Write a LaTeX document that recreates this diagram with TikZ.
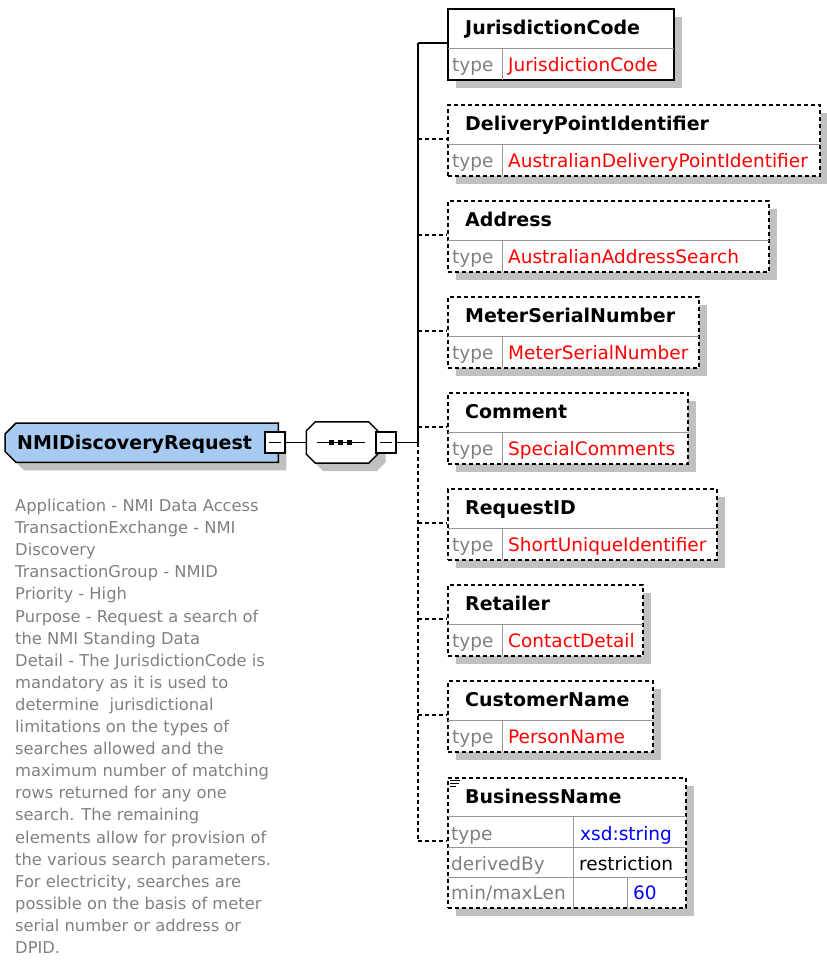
\documentclass[tikz,border=0pt]{standalone}
\usepackage{fontspec}
\setmainfont{DejaVu Sans}
\usetikzlibrary{shadows, backgrounds}
\definecolor{rootblue}{RGB}{166,202,240}
\definecolor{shadegray}{RGB}{192,192,192}
\definecolor{lblgray}{RGB}{128,128,128}
\definecolor{cellgray}{RGB}{150,150,150}
\newcommand{\elnamefont}{\fontsize{19}{22}\selectfont\bfseries}
\newcommand{\eltypefont}{\fontsize{18.5}{22}\selectfont}
\newcommand{\docfont}{\fontsize{16.3}{22.1}\selectfont}
\tikzset{>=latex,
  conn/.style={line width=1.5pt},
  optional/.style={dash pattern=on 4pt off 3pt},
  boxshadow/.style={drop shadow={shadow xshift=8pt, shadow yshift=-8pt, fill=shadegray, opacity=1}},
  elem/.style={draw, line width=1.6pt, fill=white, boxshadow, anchor=north west, inner sep=0pt, minimum height=71pt},
  celline/.style={draw=cellgray, line width=1pt, shorten <=0.8pt, shorten >=0.8pt},
  elname/.style={anchor=base west, inner sep=0pt, font=\elnamefont},
  eltype/.style={anchor=base west, inner sep=0pt, font=\eltypefont, text=lblgray},
  elval/.style={anchor=base west, inner sep=0pt, font=\eltypefont, text=red},
  minusbox/.style={draw, fill=white, line width=1.2pt, minimum width=20pt, minimum height=21pt, inner sep=0pt,
    path picture={\draw[line width=1.2pt] ([xshift=4pt]path picture bounding box.west) -- ([xshift=-4pt]path picture bounding box.east);}},
  rootbox/.style={anchor=north west, minimum width=273pt, minimum height=39pt, text width=249pt, inner xsep=12pt,
    inner ysep=0pt, text depth=0pt, align=left, font=\elnamefont},
  rootline/.style={draw, line width=1.5pt, fill=rootblue, boxshadow},
  seqbox/.style={minimum width=71pt, minimum height=41pt, inner sep=0pt},
  seqline/.style={draw, line width=1.5pt, fill=white, boxshadow},
  seqdot/.style={fill, minimum size=5pt, inner sep=0pt}
}
\begin{document}
\begin{tikzpicture}[x=1pt, y=-1pt]
\useasboundingbox (0,0) rectangle (827,961);
% root element and sequence
\node[rootbox] (root) at (5,423) {NMIDiscoveryRequest};
\node[seqbox] (seq) at (342,442.5) {};
\begin{scope}[on background layer]
\draw[rootline] ([xshift=11pt]root.north west) -- (root.north east) -- (root.south east)
  -- ([xshift=11pt]root.south west) -- ([yshift=11pt]root.south west) -- ([yshift=-11pt]root.north west) -- cycle;
\draw[seqline] ([xshift=9pt]seq.north west) -- ([xshift=-9pt]seq.north east) -- ([yshift=-9pt]seq.north east)
  -- ([yshift=9pt]seq.south east) -- ([xshift=-9pt]seq.south east) -- ([xshift=9pt]seq.south west)
  -- ([yshift=9pt]seq.south west) -- ([yshift=-9pt]seq.north west) -- cycle;
\end{scope}
\draw[line width=1.5pt] ([xshift=-25pt]seq.center) -- ([xshift=23pt]seq.center);
\node[seqdot] (dota) at ([xshift=-11pt]seq.center) {};
\node[seqdot] (dotb) at ([xshift=-2pt]seq.center) {};
\node[seqdot] (dotc) at ([xshift=7pt]seq.center) {};
\node[minusbox] (rootm) at (275,442.5) {};
\node[minusbox] (seqm) at (386,442.5) {};
\coordinate (spine) at (418,442.5);
\draw[conn] (rootm.east) -- (seq.west);
\draw[conn] (seqm.east) -- (spine);
% mandatory child
\node[elem, minimum width=226pt] (jc) at (447,8) {};
\draw[celline] ([yshift=-40pt]jc.north west) -- ([yshift=-40pt]jc.north east);
\draw[celline] ([xshift=55pt,yshift=-40pt]jc.north west) -- ([xshift=55pt]jc.south west);
\node[elname] (jc-name) at ([xshift=18pt,yshift=-26pt]jc.north west) {JurisdictionCode};
\node[eltype] (jc-type) at ([xshift=5pt,yshift=-63pt]jc.north west) {type};
\node[elval] (jc-val) at ([xshift=61pt,yshift=-63pt]jc.north west) {JurisdictionCode};
\coordinate (jc-in) at ([yshift=-35pt]jc.north west);
\draw[conn] (jc-in -| spine) -- (jc-in);
% optional children
\foreach \eid/\ename/\etype/\etop/\ewd in {dpi/DeliveryPointIdentifier/AustralianDeliveryPointIdentifier/104/372,
    adr/Address/AustralianAddressSearch/200/321, msn/MeterSerialNumber/MeterSerialNumber/296/251,
    cmt/Comment/SpecialComments/392/240, rid/RequestID/ShortUniqueIdentifier/488/269,
    ret/Retailer/ContactDetail/584/195, cus/CustomerName/PersonName/680/205}{
  \node[elem, optional, minimum width=\ewd pt] (\eid) at (447,\etop) {};
  \draw[celline] ([yshift=-40pt]\eid.north west) -- ([yshift=-40pt]\eid.north east);
  \draw[celline] ([xshift=55pt,yshift=-40pt]\eid.north west) -- ([xshift=55pt]\eid.south west);
  \node[elname] (\eid-name) at ([xshift=18pt,yshift=-26pt]\eid.north west) {\ename};
  \node[eltype] (\eid-type) at ([xshift=5pt,yshift=-63pt]\eid.north west) {type};
  \node[elval] (\eid-val) at ([xshift=61pt,yshift=-63pt]\eid.north west) {\etype};
  \coordinate (\eid-in) at ([yshift=-35pt]\eid.north west);
  \draw[conn, optional] (\eid-in -| spine) -- (\eid-in);
}
% simple type child
\node[elem, optional, minimum width=238pt, minimum height=130pt] (bn) at (447,777) {};
\draw[celline] ([yshift=-39pt]bn.north west) -- ([yshift=-39pt]bn.north east);
\draw[celline] ([yshift=-70pt]bn.north west) -- ([yshift=-70pt]bn.north east);
\draw[celline] ([yshift=-100pt]bn.north west) -- ([yshift=-100pt]bn.north east);
\draw[celline] ([xshift=126pt,yshift=-39pt]bn.north west) -- ([xshift=126pt]bn.south west);
\draw[celline] ([xshift=180pt,yshift=-100pt]bn.north west) -- ([xshift=180pt]bn.south west);
\draw[line width=1pt] ([xshift=3pt,yshift=-3pt]bn.north west) -- ++(10,0)
  ([xshift=3pt,yshift=-6pt]bn.north west) -- ++(9,0)
  ([xshift=3pt,yshift=-9pt]bn.north west) -- ++(6,0);
\node[elname] (bn-name) at ([xshift=18pt,yshift=-26pt]bn.north west) {BusinessName};
\node[eltype] (bn-type) at ([xshift=4pt,yshift=-63pt]bn.north west) {type};
\node[elval, text=blue] (bn-val) at ([xshift=133pt,yshift=-63pt]bn.north west) {xsd:string};
\node[eltype] (bn-der) at ([xshift=4pt,yshift=-93pt]bn.north west) {derivedBy};
\node[elval, text=black] (bn-res) at ([xshift=132pt,yshift=-93pt]bn.north west) {restriction};
\node[eltype] (bn-len) at ([xshift=4pt,yshift=-122pt]bn.north west) {min/maxLen};
\node[elval, text=blue] (bn-max) at ([xshift=186pt,yshift=-122pt]bn.north west) {60};
\coordinate (bn-in) at ([yshift=-64pt]bn.north west);
\draw[conn, optional] (bn-in -| spine) -- (bn-in);
% spine
\draw[conn] (spine) -- (jc-in -| spine);
\draw[conn, optional] (spine) -- (bn-in -| spine);
% documentation
\node[anchor=north west, inner sep=0pt, align=left, font=\docfont, text=lblgray] (doc) at (15,499)
  {Application - NMI Data Access\\ TransactionExchange - NMI\\ Discovery\\ TransactionGroup - NMID\\
   Priority - High\\ Purpose - Request a search of\\ the NMI Standing Data\\ Detail - The JurisdictionCode is\\
   mandatory as it is used to\\ determine\ \ jurisdictional\\ limitations on the types of\\ searches allowed and the\\
   maximum number of matching\\ rows returned for any one\\ search. The remaining\\ elements allow for provision of\\
   the various search parameters.\\ For electricity, searches are\\ possible on the basis of meter\\
   serial number or address or\\ DPID.};
\end{tikzpicture}
\end{document}
